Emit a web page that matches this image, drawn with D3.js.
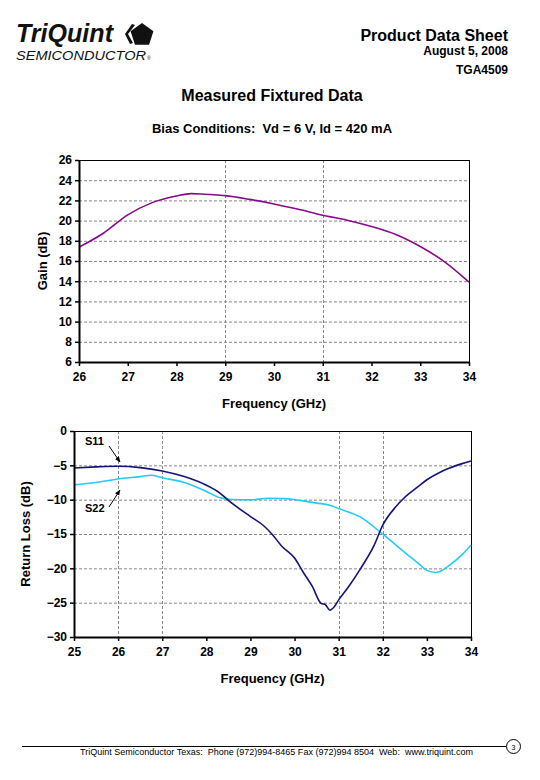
<!DOCTYPE html>
<html><head><meta charset="utf-8">
<script src="https://cdn.jsdelivr.net/npm/d3@7"></script>
<style>body{margin:0;background:#fff}svg{display:block;font-family:"Liberation Sans",Arial,sans-serif}</style>
</head><body><svg id="c" width="540" height="780"></svg>
<script>
const gainFreq = [26,26.5,27,27.5,28,28.3,28.5,28.7,29,29.5,30,30.5,31,31.5,32,32.5,33,33.5,34];
const gainDb   = [17.37,18.75,20.56,21.78,22.44,22.67,22.64,22.58,22.47,22.1,21.65,21.12,20.53,20.04,19.41,18.62,17.43,15.92,13.91];
const s11Freq = [25,25.5,26,26.5,27,27.5,28,28.3,28.5,29,29.3,29.5,29.7,30,30.2,30.4,30.6,30.7,30.8,30.9,31,31.2,31.5,31.8,32,32.3,32.5,32.8,33,33.3,33.5,33.8,34];
const s11Db   = [-5.38,-5.23,-5.14,-5.33,-5.82,-6.64,-7.9,-9.0,-10.1,-12.46,-13.8,-15.1,-16.7,-18.5,-20.6,-22.6,-25.1,-25.3,-26.1,-25.6,-24.6,-22.9,-20.0,-16.7,-13.7,-11.0,-9.65,-8.1,-7.1,-6.0,-5.43,-4.75,-4.36];
const s22Freq = [25,25.5,26,26.5,26.75,27,27.5,28,28.3,28.5,29,29.4,29.8,30,30.5,30.8,31,31.5,32,32.5,32.8,33,33.2,33.3,33.5,33.8,34];
const s22Db   = [-7.85,-7.5,-6.98,-6.64,-6.45,-6.8,-7.5,-8.8,-9.7,-9.94,-10.03,-9.8,-9.85,-10.0,-10.5,-10.8,-11.3,-12.55,-15.03,-17.7,-19.24,-20.3,-20.6,-20.45,-19.6,-18.0,-16.6];
const gainXTicks = [26,27,28,29,30,31,32,33,34];
const gainYTicks = [6,8,10,12,14,16,18,20,22,24,26];
const gainVGrid = [29,31];
const rlXTicks = [25,26,27,28,29,30,31,32,33,34];
const rlYTicks = [-30,-25,-20,-15,-10,-5,0];
const rlVGrid = [26,27,31,32];

const svg = d3.select("#c");
const txt = (x,y,s,o)=>{const t=svg.append("text").attr("x",x).attr("y",y).text(s);
  for(const k in o) t.attr(k,o[k]); return t;};

// Logo
txt(16,42,"TriQuint",{"font-size":25,"font-weight":"bold","font-style":"italic","textLength":97,"lengthAdjust":"spacingAndGlyphs",fill:"#111"});
txt(16,60,"SEMICONDUCTOR",{"font-size":13,"font-style":"italic","textLength":130,"lengthAdjust":"spacingAndGlyphs",fill:"#111"});
txt(147,60,"®",{"font-size":5,fill:"#111"});
// pentagon logo mark
const pc=[142,35], pr=12;
const pent=d3.range(5).map(i=>{const a=-Math.PI/2+i*2*Math.PI/5;return [pc[0]+pr*Math.cos(a),pc[1]+pr*Math.sin(a)];});
svg.append("path").attr("d","M"+pent.map(p=>p.join(",")).join("L")+"Z").attr("fill","#111");
svg.append("path").attr("d","M132,24 L125,34 L130,44 L133,43 L128,34 L135,25 Z").attr("fill","#111");

// Header
txt(508,41,"Product Data Sheet",{"font-size":16,"font-weight":"bold","text-anchor":"end"});
txt(508,55,"August 5, 2008",{"font-size":12,"font-weight":"bold","text-anchor":"end"});
txt(508,74,"TGA4509",{"font-size":12,"font-weight":"bold","text-anchor":"end"});
txt(272,101,"Measured Fixtured Data",{"font-size":16,"font-weight":"bold","text-anchor":"middle"});
txt(272,133,"Bias Conditions:  Vd = 6 V, Id = 420 mA",{"font-size":13,"font-weight":"bold","text-anchor":"middle","style":"white-space:pre"});

function chart(cfg){
  const x=d3.scaleLinear().domain(cfg.xd).range([cfg.x0,cfg.x1]);
  const y=d3.scaleLinear().domain(cfg.yd).range([cfg.y1,cfg.y0]);
  const g=svg.append("g");
  g.selectAll(".hg").data(cfg.yt.filter(v=>v!==cfg.yd[0]&&v!==cfg.yd[1])).join("line")
    .attr("x1",cfg.x0).attr("x2",cfg.x1).attr("y1",d=>y(d)+0.5).attr("y2",d=>y(d)+0.5)
    .attr("stroke","#888").attr("stroke-dasharray","3,2");
  g.selectAll(".vg").data(cfg.vg).join("line")
    .attr("y1",cfg.y0).attr("y2",cfg.y1).attr("x1",d=>Math.round(x(d))+0.5).attr("x2",d=>Math.round(x(d))+0.5)
    .attr("stroke","#888").attr("stroke-dasharray","3,2");
  g.append("rect").attr("x",cfg.x0+0.5).attr("y",cfg.y0+0.5).attr("width",cfg.x1-cfg.x0).attr("height",cfg.y1-cfg.y0)
    .attr("fill","none").attr("stroke","#000");
  cfg.series.forEach(s=>{
    g.append("path").datum(s.f.map((f,i)=>[f,s.v[i]]))
      .attr("d",d3.line().x(d=>x(d[0])).y(d=>y(d[1])).curve(d3.curveMonotoneX))
      .attr("fill","none").attr("stroke",s.c).attr("stroke-width",1.6);
  });
  const ax=g.append("g").attr("transform",`translate(0,${cfg.y1})`)
    .call(d3.axisBottom(x).tickValues(cfg.xt).tickSize(4).tickSizeOuter(0).tickPadding(6).tickFormat(d3.format("d")));
  const ay=g.append("g").attr("transform",`translate(${cfg.x0},0)`)
    .call(d3.axisLeft(y).tickValues(cfg.yt).tickSize(4).tickSizeOuter(0).tickPadding(3).tickFormat(d3.format("d")));
  [ax,ay].forEach(a=>{
    a.select(".domain").attr("stroke","#000").attr("stroke-width",2);
    a.selectAll(".tick line").attr("stroke","#000").attr("stroke-width",1.5);
    a.selectAll("text").attr("font-size",12).attr("font-weight","bold").attr("fill","#000")
      .attr("font-family","Liberation Sans, Arial, sans-serif");
  });
  txt((cfg.x0+cfg.x1)/2,cfg.y1+46,"Frequency (GHz)",{"font-size":13,"font-weight":"bold","text-anchor":"middle"});
  svg.append("text").attr("transform",`translate(${cfg.ylx},${(cfg.y0+cfg.y1)/2}) rotate(-90)`)
    .attr("text-anchor","middle").attr("font-size",13).attr("font-weight","bold").text(cfg.ylab);
  return {x,y};
}

chart({xd:[26,34],yd:[6,26],x0:79,x1:469,y0:160,y1:362,xt:gainXTicks,yt:gainYTicks,vg:gainVGrid,
  ylx:47,ylab:"Gain (dB)",series:[{f:gainFreq,v:gainDb,c:"#880a88"}]});

chart({xd:[25,34],yd:[-30,0],x0:74,x1:471,y0:431,y1:637,xt:rlXTicks,yt:rlYTicks,vg:rlVGrid,
  ylx:30,ylab:"Return Loss (dB)",series:[{f:s22Freq,v:s22Db,c:"#22ccf5"},{f:s11Freq,v:s11Db,c:"#141478"}]});

svg.append("defs").append("marker").attr("id","ah").attr("viewBox","0 0 10 10").attr("refX",9).attr("refY",5)
  .attr("markerWidth",6).attr("markerHeight",6).attr("orient","auto")
  .append("path").attr("d","M0,1L10,5L0,9Z").attr("fill","#000");
txt(85,445,"S11",{"font-size":11,"font-weight":"bold"});
txt(85,512,"S22",{"font-size":11,"font-weight":"bold"});
svg.append("line").attr("x1",109).attr("y1",446).attr("x2",120).attr("y2",462).attr("stroke","#000").attr("marker-end","url(#ah)");
svg.append("line").attr("x1",109).attr("y1",507).attr("x2",120).attr("y2",490).attr("stroke","#000").attr("marker-end","url(#ah)");

svg.append("line").attr("x1",22).attr("x2",506).attr("y1",746.5).attr("y2",746.5).attr("stroke","#000");
txt(80,755,"TriQuint Semiconductor Texas:  Phone (972)994-8465 Fax (972)994 8504  Web:  www.triquint.com",{"font-size":8.8,"textLength":393,"lengthAdjust":"spacingAndGlyphs","style":"white-space:pre"});
svg.append("circle").attr("cx",513.5).attr("cy",746.5).attr("r",7).attr("fill","#fff").attr("stroke","#000");
txt(513.5,749.5,"3",{"font-size":7,"text-anchor":"middle"});
</script></body></html>
